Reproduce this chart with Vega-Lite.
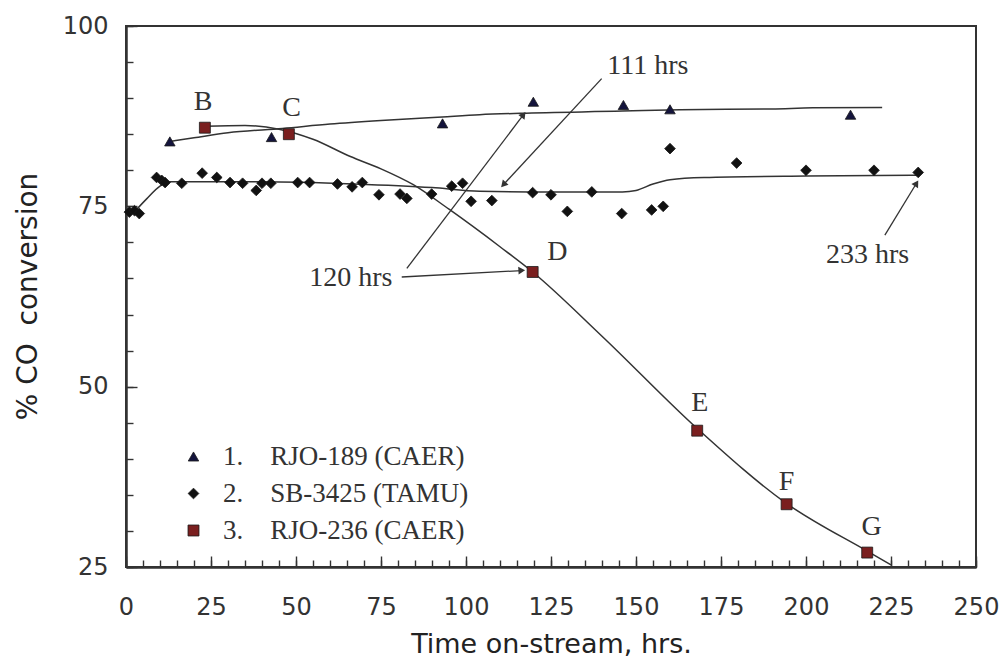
{
  "$schema": "https://vega.github.io/schema/vega-lite/v6.json",
  "width": 850,
  "height": 541,
  "autosize": {"type": "none"},
  "padding": {"left": 126, "top": 26, "right": 26, "bottom": 100},
  "background": "white",
  "config": {
    "view": {"stroke": "#333333", "strokeWidth": 2},
    "axis": {"grid": false, "labelOverlap": false, "labelFlush": false, "domainColor": "#333333", "domainWidth": 2, "tickColor": "#333333", "tickWidth": 1.4}
  },
  "datasets": {
    "points": [
      {"series": "1. RJO-189 (CAER)", "t": 12.9, "conv": 84.0},
      {"series": "1. RJO-189 (CAER)", "t": 42.8, "conv": 84.6},
      {"series": "1. RJO-189 (CAER)", "t": 93.1, "conv": 86.5},
      {"series": "1. RJO-189 (CAER)", "t": 119.8, "conv": 89.5},
      {"series": "1. RJO-189 (CAER)", "t": 146.3, "conv": 89.05},
      {"series": "1. RJO-189 (CAER)", "t": 160.0, "conv": 88.45},
      {"series": "1. RJO-189 (CAER)", "t": 213.1, "conv": 87.7},
      {"series": "2. SB-3425 (TAMU)", "t": 1.0, "conv": 74.2},
      {"series": "2. SB-3425 (TAMU)", "t": 2.5, "conv": 74.4},
      {"series": "2. SB-3425 (TAMU)", "t": 3.9, "conv": 74.0},
      {"series": "2. SB-3425 (TAMU)", "t": 9.0, "conv": 79.0},
      {"series": "2. SB-3425 (TAMU)", "t": 10.5, "conv": 78.6},
      {"series": "2. SB-3425 (TAMU)", "t": 11.5, "conv": 78.3},
      {"series": "2. SB-3425 (TAMU)", "t": 16.4, "conv": 78.2},
      {"series": "2. SB-3425 (TAMU)", "t": 22.4, "conv": 79.6},
      {"series": "2. SB-3425 (TAMU)", "t": 26.7, "conv": 79.0},
      {"series": "2. SB-3425 (TAMU)", "t": 30.6, "conv": 78.3},
      {"series": "2. SB-3425 (TAMU)", "t": 34.3, "conv": 78.2},
      {"series": "2. SB-3425 (TAMU)", "t": 38.3, "conv": 77.2},
      {"series": "2. SB-3425 (TAMU)", "t": 40.0, "conv": 78.2},
      {"series": "2. SB-3425 (TAMU)", "t": 42.6, "conv": 78.2},
      {"series": "2. SB-3425 (TAMU)", "t": 50.5, "conv": 78.3},
      {"series": "2. SB-3425 (TAMU)", "t": 54.0, "conv": 78.3},
      {"series": "2. SB-3425 (TAMU)", "t": 62.2, "conv": 78.1},
      {"series": "2. SB-3425 (TAMU)", "t": 66.5, "conv": 77.7},
      {"series": "2. SB-3425 (TAMU)", "t": 69.5, "conv": 78.3},
      {"series": "2. SB-3425 (TAMU)", "t": 74.4, "conv": 76.6},
      {"series": "2. SB-3425 (TAMU)", "t": 80.6, "conv": 76.7},
      {"series": "2. SB-3425 (TAMU)", "t": 82.6, "conv": 76.1},
      {"series": "2. SB-3425 (TAMU)", "t": 89.9, "conv": 76.7},
      {"series": "2. SB-3425 (TAMU)", "t": 95.8, "conv": 77.8},
      {"series": "2. SB-3425 (TAMU)", "t": 99.0, "conv": 78.2},
      {"series": "2. SB-3425 (TAMU)", "t": 101.5, "conv": 75.7},
      {"series": "2. SB-3425 (TAMU)", "t": 107.6, "conv": 75.8},
      {"series": "2. SB-3425 (TAMU)", "t": 119.6, "conv": 76.9},
      {"series": "2. SB-3425 (TAMU)", "t": 125.0, "conv": 76.6},
      {"series": "2. SB-3425 (TAMU)", "t": 129.8, "conv": 74.3},
      {"series": "2. SB-3425 (TAMU)", "t": 137.0, "conv": 77.0},
      {"series": "2. SB-3425 (TAMU)", "t": 145.8, "conv": 74.0},
      {"series": "2. SB-3425 (TAMU)", "t": 154.6, "conv": 74.5},
      {"series": "2. SB-3425 (TAMU)", "t": 158.0, "conv": 75.0},
      {"series": "2. SB-3425 (TAMU)", "t": 160.0, "conv": 83.0},
      {"series": "2. SB-3425 (TAMU)", "t": 179.6, "conv": 81.0},
      {"series": "2. SB-3425 (TAMU)", "t": 200.0, "conv": 80.0},
      {"series": "2. SB-3425 (TAMU)", "t": 220.0, "conv": 80.0},
      {"series": "2. SB-3425 (TAMU)", "t": 233.0, "conv": 79.7},
      {"series": "3. RJO-236 (CAER)", "t": 23.2, "conv": 85.9},
      {"series": "3. RJO-236 (CAER)", "t": 47.9, "conv": 85.0},
      {"series": "3. RJO-236 (CAER)", "t": 119.6, "conv": 65.9},
      {"series": "3. RJO-236 (CAER)", "t": 168.0, "conv": 43.9},
      {"series": "3. RJO-236 (CAER)", "t": 194.3, "conv": 33.7},
      {"series": "3. RJO-236 (CAER)", "t": 218.0, "conv": 27.0}
    ],
    "curves": [
      {"series": "1", "t": 13, "conv": 84.0},
      {"series": "1", "t": 20, "conv": 84.5},
      {"series": "1", "t": 30, "conv": 85.2},
      {"series": "1", "t": 46, "conv": 85.8},
      {"series": "1", "t": 60, "conv": 86.4},
      {"series": "1", "t": 75, "conv": 86.9},
      {"series": "1", "t": 93, "conv": 87.4},
      {"series": "1", "t": 104, "conv": 87.7},
      {"series": "1", "t": 116, "conv": 87.9},
      {"series": "1", "t": 146, "conv": 88.2},
      {"series": "1", "t": 163, "conv": 88.4},
      {"series": "1", "t": 190, "conv": 88.5},
      {"series": "1", "t": 202, "conv": 88.65},
      {"series": "1", "t": 222.4, "conv": 88.7},
      {"series": "2", "t": 2.6, "conv": 74.3},
      {"series": "2", "t": 6, "conv": 76.0},
      {"series": "2", "t": 10, "conv": 77.8},
      {"series": "2", "t": 13, "conv": 78.4},
      {"series": "2", "t": 40, "conv": 78.4},
      {"series": "2", "t": 67, "conv": 78.1},
      {"series": "2", "t": 90, "conv": 77.6},
      {"series": "2", "t": 104, "conv": 77.1},
      {"series": "2", "t": 125, "conv": 77.0},
      {"series": "2", "t": 146, "conv": 77.0},
      {"series": "2", "t": 150, "conv": 77.2},
      {"series": "2", "t": 155, "conv": 78.1},
      {"series": "2", "t": 160, "conv": 78.7},
      {"series": "2", "t": 170, "conv": 79.0},
      {"series": "2", "t": 200, "conv": 79.2},
      {"series": "2", "t": 233, "conv": 79.3},
      {"series": "3", "t": 23.2, "conv": 86.1},
      {"series": "3", "t": 35, "conv": 86.2},
      {"series": "3", "t": 45, "conv": 85.7},
      {"series": "3", "t": 55, "conv": 84.3},
      {"series": "3", "t": 66, "conv": 81.9},
      {"series": "3", "t": 75, "conv": 80.2},
      {"series": "3", "t": 84.5, "conv": 78.0},
      {"series": "3", "t": 95, "conv": 74.6},
      {"series": "3", "t": 110, "conv": 69.4},
      {"series": "3", "t": 119.6, "conv": 65.9},
      {"series": "3", "t": 140, "conv": 57.0},
      {"series": "3", "t": 168, "conv": 44.2},
      {"series": "3", "t": 194.3, "conv": 33.8},
      {"series": "3", "t": 218, "conv": 27.2},
      {"series": "3", "t": 225, "conv": 25.3}
    ],
    "labels": [
      {"text": "B", "t": 22.7, "conv": 89.4},
      {"text": "C", "t": 48.7, "conv": 88.6},
      {"text": "D", "t": 126.9, "conv": 68.6},
      {"text": "E", "t": 168.8, "conv": 47.7},
      {"text": "F", "t": 194.3, "conv": 36.8},
      {"text": "G", "t": 219.3, "conv": 30.6},
      {"text": "120 hrs", "t": 66.1, "conv": 65.1},
      {"text": "111 hrs", "t": 153.5, "conv": 94.45},
      {"text": "233 hrs", "t": 218.1, "conv": 68.25}
    ],
    "arrows": [
      {"id": "a1", "t": 81.1, "conv": 65.2, "t2": 116.4, "conv2": 66.1},
      {"id": "a2", "t": 82.6, "conv": 66.4, "t2": 116.9, "conv2": 87.7},
      {"id": "a3", "t": 139.9, "conv": 92.7, "t2": 111.0, "conv2": 78.0},
      {"id": "a4", "t": 223.2, "conv": 71.0, "t2": 232.5, "conv2": 78.2}
    ]
  },
  "resolve": {"axis": {"x": "independent", "y": "independent"}},
  "layer": [
    {
      "data": {"name": "curves"},
      "mark": {"type": "line", "interpolate": "monotone", "color": "#333333", "strokeWidth": 1.5},
      "encoding": {
        "x": {"field": "t", "type": "quantitative", "scale": {"domain": [0, 250], "nice": false, "zero": false},
          "axis": {"orient": "bottom", "values": [0,5,10,15,20,25,30,35,40,45,50,55,60,65,70,75,80,85,90,95,100,105,110,115,120,125,130,135,140,145,150,155,160,165,170,175,180,185,190,195,200,205,210,215,220,225,230,235,240,245,250], "labels": false, "tickSize": -7, "title": null}},
        "y": {"field": "conv", "type": "quantitative", "scale": {"domain": [25, 100], "nice": false, "zero": false},
          "axis": {"orient": "left", "values": [25,30,35,40,45,50,55,60,65,70,75,80,85,90,95,100], "labels": false, "tickSize": -7, "title": null}},
        "detail": {"field": "series", "type": "nominal"}
      }
    },
    {
      "data": {"name": "arrows"},
      "mark": {"type": "rule", "color": "#333333", "strokeWidth": 1.3},
      "encoding": {
        "x": {"field": "t", "type": "quantitative", "axis": null},
        "y": {"field": "conv", "type": "quantitative", "axis": null},
        "x2": {"field": "t2"},
        "y2": {"field": "conv2"}
      }
    },
    {
      "data": {"name": "arrows"},
      "transform": [{"filter": "datum.id === 'a1'"}],
      "mark": {"type": "point", "shape": "triangle-up", "angle": 86.8, "filled": true, "color": "#333333", "opacity": 1, "size": 60},
      "encoding": {"x": {"field": "t2", "type": "quantitative", "axis": null}, "y": {"field": "conv2", "type": "quantitative", "axis": null}}
    },
    {
      "data": {"name": "arrows"},
      "transform": [{"filter": "datum.id === 'a2'"}],
      "mark": {"type": "point", "shape": "triangle-up", "angle": 37.3, "filled": true, "color": "#333333", "opacity": 1, "size": 60},
      "encoding": {"x": {"field": "t2", "type": "quantitative", "axis": null}, "y": {"field": "conv2", "type": "quantitative", "axis": null}}
    },
    {
      "data": {"name": "arrows"},
      "transform": [{"filter": "datum.id === 'a3'"}],
      "mark": {"type": "point", "shape": "triangle-up", "angle": 222.7, "filled": true, "color": "#333333", "opacity": 1, "size": 60},
      "encoding": {"x": {"field": "t2", "type": "quantitative", "axis": null}, "y": {"field": "conv2", "type": "quantitative", "axis": null}}
    },
    {
      "data": {"name": "arrows"},
      "transform": [{"filter": "datum.id === 'a4'"}],
      "mark": {"type": "point", "shape": "triangle-up", "angle": 31.5, "filled": true, "color": "#333333", "opacity": 1, "size": 60},
      "encoding": {"x": {"field": "t2", "type": "quantitative", "axis": null}, "y": {"field": "conv2", "type": "quantitative", "axis": null}}
    },
    {
      "data": {"name": "points"},
      "mark": {"type": "point", "filled": true, "opacity": 1, "stroke": "#1a1a1a", "strokeWidth": 0.8},
      "encoding": {
        "x": {"field": "t", "type": "quantitative",
          "axis": {"orient": "bottom", "values": [0,25,50,75,100,125,150,175,200,225,250], "tickSize": -11, "labelPadding": 39, "labelFont": "DejaVu Sans", "labelFontSize": 24, "labelColor": "#333333",
            "title": "Time on-stream, hrs.", "titleFont": "DejaVu Sans", "titleFontSize": 27, "titleFontWeight": "normal", "titleColor": "#222222", "titleX": 425, "titleY": 85, "titleBaseline": "alphabetic", "titleAlign": "center"}},
        "y": {"field": "conv", "type": "quantitative",
          "axis": {"orient": "left", "values": [25,50,75,100], "tickSize": -11, "labelPadding": 29, "labelFont": "DejaVu Sans", "labelFontSize": 24, "labelColor": "#333333", "labelBaseline": "middle",
            "title": "% CO\u00a0 conversion", "titleFont": "DejaVu Sans", "titleFontSize": 28, "titleFontWeight": "normal", "titleColor": "#222222", "titleX": -98, "titleY": 270, "titleAngle": -90, "titleBaseline": "middle", "titleAlign": "center"}},
        "color": {"field": "series", "type": "nominal", "scale": {"range": ["#14143c", "#111111", "#7a1f1f"]},
          "legend": {"orient": "none", "legendX": 54, "legendY": 417, "title": null, "labelFont": "Liberation Serif", "labelFontSize": 27, "labelColor": "#333333", "labelOffset": 16, "labelLimit": 0, "rowPadding": 9, "symbolStrokeWidth": 0.8,
            "labelExpr": "replace(datum.label, '. ', '.\u00a0\u00a0\u00a0\u00a0')"}},
        "shape": {"field": "series", "type": "nominal", "scale": {"range": ["triangle-up", "diamond", "square"]}},
        "size": {"field": "series", "type": "nominal", "scale": {"range": [110, 120, 150]}}
      }
    },
    {
      "data": {"name": "labels"},
      "mark": {"type": "text", "font": "Liberation Serif", "fontSize": 28, "color": "#333333", "align": "center", "baseline": "middle"},
      "encoding": {
        "x": {"field": "t", "type": "quantitative", "axis": null},
        "y": {"field": "conv", "type": "quantitative", "axis": null},
        "text": {"field": "text"}
      }
    }
  ]
}
